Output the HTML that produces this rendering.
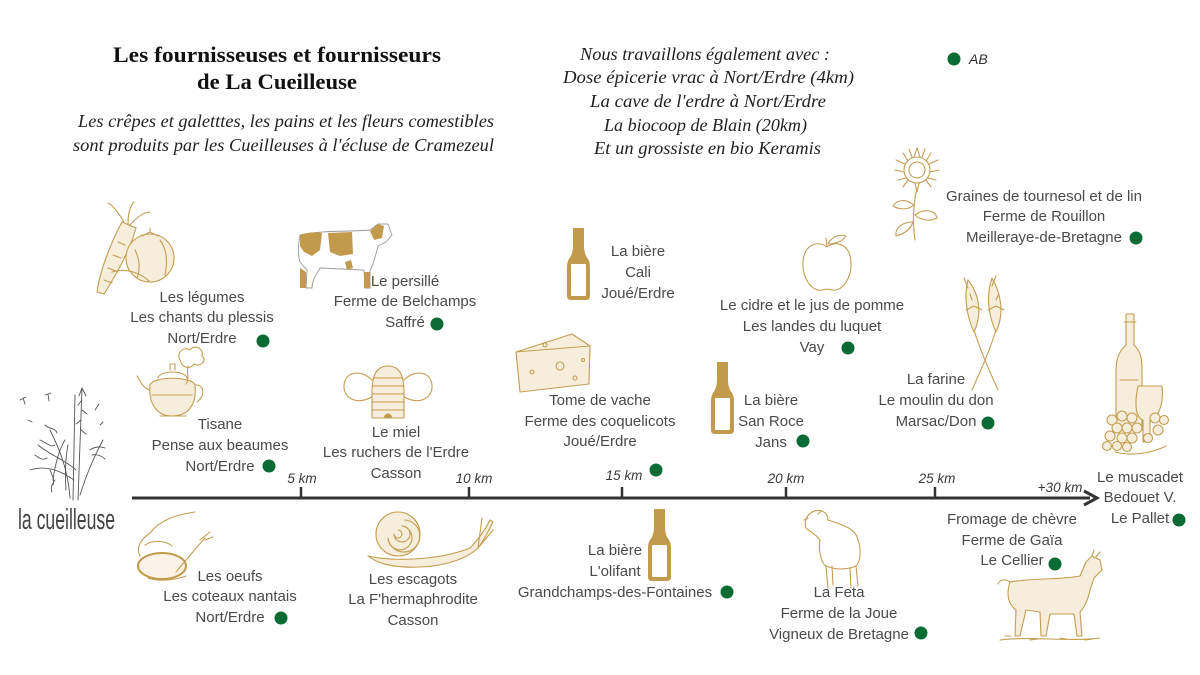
<!DOCTYPE html>
<html><head><meta charset="utf-8"><style>
html,body{margin:0;padding:0;background:#fff;}
svg{display:block;}
.t{font-family:"Liberation Sans",sans-serif;font-size:15px;fill:#4a4a4a;text-anchor:middle;}
.km{font-family:"Liberation Sans",sans-serif;font-size:13.5px;font-style:italic;fill:#3a3a3a;text-anchor:middle;}
.ti{font-family:"Liberation Serif",serif;font-size:22px;font-weight:bold;fill:#111;text-anchor:middle;}
.it{font-family:"Liberation Serif",serif;font-size:17.5px;font-style:italic;fill:#222;text-anchor:middle;}
.it2{font-family:"Liberation Serif",serif;font-size:18px;font-style:italic;fill:#222;text-anchor:middle;}
.g{fill:#0b6b35;}
.ln{fill:none;stroke:#c49d52;stroke-width:1.1;stroke-linecap:round;stroke-linejoin:round;}
.lf{fill:#f6eddb;stroke:#c49d52;stroke-width:1.1;stroke-linejoin:round;}
.gold{fill:#c29a4c;}
</style></head><body>
<svg width="1200" height="675" viewBox="0 0 1200 675" xmlns="http://www.w3.org/2000/svg">
<defs>
<g id="bottle">
<path class="gold" d="M6,0 h11 v18 q0,8 4,13 q2,3 2,8 v29 q0,4 -4,4 h-15 q-4,0 -4,-4 v-29 q0,-5 2,-8 q4,-5 4,-13 z"/>
<rect x="4" y="36" width="15" height="32" fill="#fff" rx="1"/>
</g>
</defs>

<!-- Titles -->
<text class="ti" x="277" y="62" textLength="328" lengthAdjust="spacingAndGlyphs">Les fournisseuses et fournisseurs</text>
<text class="ti" x="277" y="89" textLength="160" lengthAdjust="spacingAndGlyphs">de La Cueilleuse</text>
<text class="it" x="286" y="127" textLength="416" lengthAdjust="spacingAndGlyphs">Les crêpes et galetttes, les pains et les fleurs comestibles</text>
<text class="it" x="283.5" y="151" textLength="421" lengthAdjust="spacingAndGlyphs">sont produits par les Cueilleuses à l'écluse de Cramezeul</text>

<text class="it2" x="705" y="60" textLength="250" lengthAdjust="spacingAndGlyphs">Nous travaillons également avec :</text>
<text class="it2" x="708.5" y="83" textLength="291" lengthAdjust="spacingAndGlyphs">Dose épicerie vrac à Nort/Erdre (4km)</text>
<text class="it2" x="708" y="107" textLength="236" lengthAdjust="spacingAndGlyphs">La cave de l'erdre à Nort/Erdre</text>
<text class="it2" x="705.5" y="131" textLength="203" lengthAdjust="spacingAndGlyphs">La biocoop de Blain (20km)</text>
<text class="it2" x="707.5" y="154" textLength="227" lengthAdjust="spacingAndGlyphs">Et un grossiste en bio Keramis</text>

<circle class="g" cx="954" cy="59" r="6.5"/>
<text x="969" y="64" style="font-family:'Liberation Sans',sans-serif;font-size:14px;font-style:italic;fill:#333">AB</text>

<!-- Axis -->
<line x1="132" y1="498" x2="1090" y2="498" stroke="#333" stroke-width="3"/>
<path d="M1084,491 L1097,498 L1084,505" fill="none" stroke="#333" stroke-width="3"/>
<g stroke="#333" stroke-width="2.5">
<line x1="301" y1="487" x2="301" y2="498"/>
<line x1="469" y1="487" x2="469" y2="498"/>
<line x1="622" y1="487" x2="622" y2="498"/>
<line x1="786" y1="487" x2="786" y2="498"/>
<line x1="935" y1="487" x2="935" y2="498"/>
</g>
<text class="km" x="302" y="483">5 km</text>
<text class="km" x="474" y="483">10 km</text>
<text class="km" x="624" y="480">15 km</text>
<text class="km" x="786" y="483">20 km</text>
<text class="km" x="937" y="483">25 km</text>
<text class="km" x="1060" y="492">+30 km</text>

<!-- Logo -->
<g fill="none" stroke="#555" stroke-width="0.9" stroke-linecap="round">
<path d="M73,500 L75,395 M78,500 L82,388 M70,498 C68,470 60,450 50,430 M80,495 C88,470 95,455 103,440 M76,470 C65,460 50,455 38,445 M74,480 C60,470 45,465 30,470"/>
<path d="M82,388 l-3,8 M82,388 l4,8 M82,400 l-4,5 M82,410 l5,4 M81,420 l-5,4 M81,430 l5,4"/>
<path d="M45,425 c5,5 10,2 12,8 M40,440 c6,2 10,8 15,5 M35,455 c4,3 8,6 12,3 M50,470 c2,5 5,10 3,15 M55,480 c-3,4 -5,8 -3,12"/>
<path d="M20,400 l6,-3 M23,398 l2,6 M45,395 l6,-2 M48,394 l1,7 M95,410 l4,-6 M100,425 l3,-3 M28,420 l4,2"/>
<path d="M90,450 c4,-3 10,-4 15,-2 M92,455 c5,-1 10,1 13,4 M65,440 c-6,10 -10,25 -12,40 M68,445 c-3,15 -3,30 -2,45"/>
</g>
<text x="18" y="529" textLength="97" lengthAdjust="spacingAndGlyphs" style="font-family:'Liberation Sans Narrow','Liberation Sans',sans-serif;font-size:29px;fill:#444;font-weight:normal">la cueilleuse</text>

<!-- Légumes (carrot + tomato) -->
<path class="lf" d="M97,292 C100,270 112,240 122,222 L136,228 C130,250 118,272 104,294 Z"/>
<path class="ln" d="M104,280 l8,3 M108,268 l8,3 M113,255 l8,3 M118,242 l7,3"/>
<path class="ln" d="M124,222 C118,212 112,205 108,203 M128,224 C128,214 130,206 134,202 M130,225 C138,216 145,212 150,212"/>
<circle class="lf" cx="150" cy="258" r="24"/>
<path class="ln" d="M142,236 l8,-4 l8,4 M150,232 l0,-4 M135,250 c5,10 5,20 2,28 M160,240 c6,8 8,20 5,35"/>
<path class="ln" d="M112,272 C125,268 140,272 150,282"/>
<text class="t" x="202" y="302">Les légumes</text>
<text class="t" x="202" y="322">Les chants du plessis</text>
<text class="t" x="202" y="343">Nort/Erdre</text>
<circle class="g" cx="263" cy="341" r="6.5"/>

<!-- Cow -->
<path d="M300,235 C320,230 350,232 370,230 L378,224 L388,224 L392,235 L386,242 L378,246 C375,258 372,268 370,270 L370,288 L365,288 L364,270 L320,268 C316,275 312,280 312,288 L306,288 L307,270 L300,262 C298,255 298,245 300,235 Z" fill="#fff" stroke="#9a9a9a" stroke-width="0.9"/>
<path class="gold" d="M300,235 C308,232 316,232 322,233 L320,250 L312,256 L304,252 L300,246 Z"/>
<path class="gold" d="M328,233 L352,232 L353,254 L340,256 L330,252 Z"/>
<path class="gold" d="M370,231 L378,224 L384,226 L382,238 L374,240 Z"/>
<path class="gold" d="M300,268 l6,4 l0,16 l-6,0 Z M364,272 l6,0 l0,16 l-6,0 Z M345,262 l6,-2 l2,8 l-6,2 Z"/>
<text class="t" x="405" y="286">Le persillé</text>
<text class="t" x="405" y="306">Ferme de Belchamps</text>
<text class="t" x="405" y="327">Saffré</text>
<circle class="g" cx="437" cy="324" r="6.5"/>

<!-- Beer Cali -->
<use href="#bottle" x="567" y="228"/>
<text class="t" x="638" y="256">La bière</text>
<text class="t" x="638" y="277">Cali</text>
<text class="t" x="638" y="298">Joué/Erdre</text>

<!-- Apple -->
<path class="ln" stroke-width="1.3" d="M827,247 C818,240 804,244 803,262 C802,278 812,292 822,290 C825,289 829,289 832,290 C842,292 852,278 851,262 C850,244 836,240 827,247 Z"/>
<path class="ln" d="M827,247 L826,238 M828,244 C832,236 840,234 846,236 C842,242 834,244 828,244 Z"/>
<text class="t" x="812" y="310">Le cidre et le jus de pomme</text>
<text class="t" x="812" y="331">Les landes du luquet</text>
<text class="t" x="812" y="352">Vay</text>
<circle class="g" cx="848" cy="348" r="6.5"/>

<!-- Sunflower -->
<g class="ln">
<circle cx="917" cy="170" r="8"/>
<circle cx="917" cy="170" r="13"/>
<path d="M917,148 l3,9 M917,148 l-3,9 M931,153 l-5,8 M903,153 l5,8 M939,170 l-9,2 M895,170 l9,2 M931,187 l-5,-7 M903,187 l5,-7 M917,192 l2,-9 M917,192 l-2,-9 M938,160 l-9,4 M896,160 l9,4 M936,180 l-8,-2 M898,180 l8,-2 M925,149 l-3,8 M909,149 l3,8"/>
<path d="M916,192 C914,205 912,220 915,240"/>
<path d="M914,205 C905,198 897,200 893,206 C900,210 908,210 914,205 Z"/>
<path d="M915,215 C925,208 935,210 937,218 C930,222 920,220 915,215 Z"/>
<path d="M913,222 C902,222 895,228 896,236 C904,234 910,230 913,222 Z"/>
</g>
<text class="t" x="1044" y="201">Graines de tournesol et de lin</text>
<text class="t" x="1044" y="221">Ferme de Rouillon</text>
<text class="t" x="1044" y="242">Meilleraye-de-Bretagne</text>
<circle class="g" cx="1136" cy="238" r="6.5"/>

<!-- Teapot -->
<g>
<path class="lf" d="M150,385 C148,405 158,416 172,416 C188,416 197,405 195,385 C192,376 153,376 150,385 Z"/>
<path class="ln" d="M158,378 C160,370 185,370 187,378 M170,370 l0,-6 l5,0 l0,6 M150,390 C142,388 140,380 137,376 M195,385 C204,384 206,395 197,402 M152,395 L192,395 M160,416 L186,416"/>
<path class="ln" d="M180,360 C176,352 184,346 190,350 C194,344 204,348 202,356 C208,360 200,368 194,364 C190,370 182,368 180,360 Z"/>
<path class="ln" d="M188,366 C186,372 190,378 186,384"/>
</g>
<text class="t" x="220" y="429">Tisane</text>
<text class="t" x="220" y="450">Pense aux beaumes</text>
<text class="t" x="220" y="471">Nort/Erdre</text>
<circle class="g" cx="269" cy="466" r="6.5"/>

<!-- Beehive -->
<g>
<path class="ln" d="M372,380 C360,368 343,372 344,388 C346,402 362,404 373,396"/>
<path class="ln" d="M404,380 C416,368 433,372 432,388 C430,402 414,404 403,396"/>
<path class="lf" d="M372,418 L372,392 C372,370 380,366 388,366 C396,366 404,370 404,392 L404,418 Z"/>
<path class="ln" d="M373,378 L403,378 M372,386 L404,386 M372,394 L404,394 M372,402 L404,402 M372,410 L404,410"/>
<path class="gold" d="M384,418 C384,412 392,412 392,418 Z"/>
</g>
<text class="t" x="396" y="437">Le miel</text>
<text class="t" x="396" y="457">Les ruchers de l'Erdre</text>
<text class="t" x="396" y="478">Casson</text>

<!-- Cheese -->
<g>
<path class="lf" d="M516,352 L572,334 L590,346 L589,384 L520,392 Z"/>
<path class="ln" d="M516,352 L590,346"/>
<circle class="ln" cx="560" cy="366" r="4"/>
<circle class="ln" cx="532" cy="372" r="2"/>
<circle class="ln" cx="575" cy="378" r="2"/>
<circle class="ln" cx="545" cy="345" r="2"/>
<circle class="ln" cx="583" cy="360" r="1.5"/>
</g>
<text class="t" x="600" y="405">Tome de vache</text>
<text class="t" x="600" y="426">Ferme des coquelicots</text>
<text class="t" x="600" y="446">Joué/Erdre</text>
<circle class="g" cx="656" cy="470" r="6.5"/>

<!-- Beer San Roce -->
<use href="#bottle" x="711" y="362"/>
<text class="t" x="771" y="405">La bière</text>
<text class="t" x="771" y="426">San Roce</text>
<text class="t" x="771" y="447">Jans</text>
<circle class="g" cx="803" cy="441" r="6.5"/>

<!-- Wheat -->
<g>
<path class="ln" d="M974,330 C980,350 990,372 998,390 M996,330 C990,350 980,372 972,390"/>
<path class="lf" d="M968,280 C964,295 966,315 974,332 C982,315 980,295 968,280 Z"/>
<path class="lf" d="M992,278 C986,295 988,315 996,332 C1004,315 1002,295 992,278 Z"/>
<path class="ln" d="M968,288 l-4,-10 M972,300 l-2,-6 M992,286 l4,-10 M996,300 l3,-6 M966,310 l8,-4 l8,4 M988,310 l8,-4 l8,4"/>
</g>
<text class="t" x="936" y="384">La farine</text>
<text class="t" x="936" y="405">Le moulin du don</text>
<text class="t" x="936" y="426">Marsac/Don</text>
<circle class="g" cx="988" cy="423" r="6.5"/>

<!-- Wine -->
<g>
<path class="lf" d="M1126,314 L1134,314 L1134,345 C1142,352 1142,362 1142,372 L1142,430 L1116,430 L1116,372 C1116,360 1118,352 1126,345 Z"/>
<path class="ln" d="M1124,322 L1136,322 M1120,380 L1138,380"/>
<path class="lf" d="M1138,386 L1162,386 C1164,405 1158,418 1150,420 L1150,442 L1143,442 L1143,420 C1136,418 1134,405 1138,386 Z"/>
<g class="lf">
<circle cx="1112" cy="420" r="5"/><circle cx="1122" cy="416" r="5"/><circle cx="1132" cy="418" r="5"/><circle cx="1155" cy="418" r="5"/><circle cx="1164" cy="420" r="4.5"/>
<circle cx="1117" cy="428" r="5"/><circle cx="1127" cy="428" r="5"/><circle cx="1137" cy="428" r="5"/><circle cx="1158" cy="430" r="5"/>
<circle cx="1110" cy="436" r="5"/><circle cx="1122" cy="438" r="5"/><circle cx="1132" cy="438" r="5"/><circle cx="1148" cy="438" r="4.5"/>
<circle cx="1107" cy="446" r="4.5"/><circle cx="1117" cy="446" r="4.5"/><circle cx="1127" cy="447" r="4.5"/>
</g>
<path class="ln" d="M1115,452 C1130,456 1150,454 1166,446"/>
</g>
<text class="t" x="1140" y="482">Le muscadet</text>
<text class="t" x="1140" y="502">Bedouet V.</text>
<text class="t" x="1140" y="523">Le Pallet</text>
<circle class="g" cx="1179" cy="520" r="6.5"/>

<!-- Hand + egg -->
<g>
<path class="ln" stroke-width="1.8" d="M150,533 C160,520 175,515 195,512 M150,533 C140,540 136,548 140,556 M145,545 C152,540 165,540 172,546 M150,556 C160,552 172,555 176,562"/>
<ellipse cx="162" cy="566" rx="24" ry="13" fill="#fbf4e6" stroke="#c29a4c" stroke-width="2"/>
<path class="ln" stroke-width="2.5" d="M176,572 C186,560 196,548 205,538 M200,540 l10,-8 M205,540 l8,-3"/>
<path class="ln" stroke-width="2" d="M148,578 C160,582 175,580 186,576"/>
</g>
<text class="t" x="230" y="581">Les oeufs</text>
<text class="t" x="230" y="601">Les coteaux nantais</text>
<text class="t" x="230" y="622">Nort/Erdre</text>
<circle class="g" cx="281" cy="618" r="6.5"/>

<!-- Snail -->
<g>
<path class="lf" d="M368,556 C395,562 440,560 470,548 C478,540 485,530 490,520 L493,522 C488,532 484,540 478,548 C470,556 450,566 420,567 C395,568 378,564 368,556 Z"/>
<circle class="lf" cx="398" cy="534" r="22"/>
<path class="ln" d="M398,534 m0,-4 a4,4 0 1,1 -4,4 a8,8 0 1,0 8,-8 a12,12 0 1,1 -14,12 a16,16 0 1,0 16,-18"/>
<path class="ln" d="M478,548 L482,518 M478,548 L493,530"/>
</g>
<text class="t" x="413" y="584">Les escagots</text>
<text class="t" x="413" y="604">La F'hermaphrodite</text>
<text class="t" x="413" y="625">Casson</text>

<!-- Beer L'olifant -->
<use href="#bottle" x="648" y="509"/>
<text class="t" x="615" y="555">La bière</text>
<text class="t" x="615" y="576">L'olifant</text>
<text class="t" x="615" y="597">Grandchamps-des-Fontaines</text>
<circle class="g" cx="727" cy="592" r="6.5"/>

<!-- Sheep -->
<g class="ln">
<path d="M812,512 C806,516 804,522 806,528 C810,532 816,534 820,540 C818,552 822,564 826,566 L828,588 M832,566 L833,585 M850,568 L851,588 M856,566 L858,586"/>
<path d="M812,512 C820,508 828,512 828,520 C840,524 856,528 858,540 C862,552 860,562 856,566 C846,570 836,570 826,566"/>
<path d="M808,518 l-4,2 M818,514 l3,-3"/>
</g>
<text class="t" x="839" y="597">La Feta</text>
<text class="t" x="839" y="618">Ferme de la Joue</text>
<text class="t" x="839" y="639">Vigneux de Bretagne</text>
<circle class="g" cx="921" cy="633" r="6.5"/>

<!-- Goat -->
<g>
<path class="lf" d="M1010,582 C1030,578 1060,580 1080,576 L1086,562 L1092,556 L1100,560 L1102,570 L1094,578 L1090,590 C1088,600 1084,608 1080,612 L1082,636 L1077,636 L1074,614 L1050,614 L1046,636 L1041,636 L1040,612 L1026,610 L1020,636 L1015,636 L1016,610 C1008,604 1006,594 1010,582 Z"/>
<path class="ln" d="M1010,582 C1004,578 1000,580 998,584 M1092,556 l2,-6 M1096,557 l4,-5"/>
<path class="ln" stroke-width="0.8" d="M1000,640 C1030,636 1070,642 1100,638 M1005,636 l6,0 M1030,640 l8,-1 M1060,638 l6,1 M1085,640 l8,-1"/>
</g>
<text class="t" x="1012" y="524">Fromage de chèvre</text>
<text class="t" x="1012" y="545">Ferme de Gaïa</text>
<text class="t" x="1012" y="565">Le Cellier</text>
<circle class="g" cx="1055" cy="564" r="6.5"/>
</svg>
</body></html>
